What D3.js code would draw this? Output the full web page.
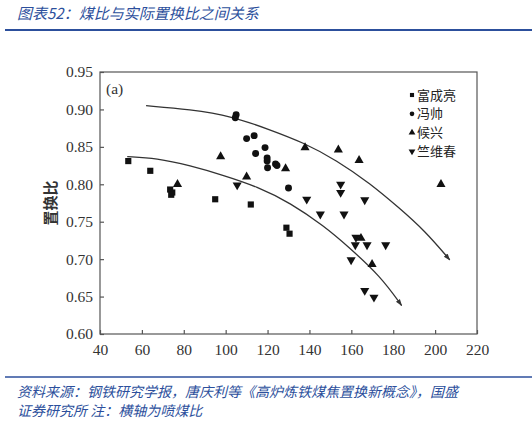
<!DOCTYPE html>
<html>
<head>
<meta charset="utf-8">
<script src="https://cdn.jsdelivr.net/npm/d3@7.9.0/dist/d3.min.js"></script>
<style>
  body { margin: 0; background: #fff; }
  svg { display: block; }
  .cap { font-family: "Noto Sans CJK SC", sans-serif; font-style: italic; fill: #2c4f9c; }
  .tick text { font-family: "Liberation Serif", "DejaVu Serif", serif; font-size: 15.5px; fill: #333; }
</style>
</head>
<body>
<svg id="chart" width="532" height="424"></svg>
<script>
// series data: [coal ratio, replacement ratio]
const fuChengLiang = [[53.5, 0.831], [64, 0.818], [73.5, 0.793], [74.5, 0.789], [74, 0.786],
  [95, 0.780], [112, 0.773], [129, 0.742], [130.5, 0.734]];
const fengShuai = [[105, 0.893], [104.6, 0.889], [110, 0.861], [113.6, 0.865], [114.3, 0.841],
  [118.8, 0.849], [119.8, 0.835], [119.8, 0.831], [120, 0.822], [123.8, 0.827], [124.5, 0.825], [130, 0.795]];
const houXing = [[77, 0.800], [97.6, 0.837], [110, 0.810], [128.6, 0.821], [137.9, 0.849],
  [153.8, 0.846], [163.7, 0.832], [202.8, 0.800], [164.6, 0.728], [169.9, 0.693]];
const zhuWeiChun = [[105.5, 0.799], [154.9, 0.800], [154.9, 0.789], [138.7, 0.780], [166.4, 0.779],
  [145.2, 0.760], [156.5, 0.760], [162.2, 0.729], [161.9, 0.719], [167.5, 0.719], [176.4, 0.719],
  [159.9, 0.699], [166.4, 0.658], [170.8, 0.649]];

// hand drawn trend curves
const upperCurve = [[62, 0.905], [83, 0.900], [103, 0.891], [121, 0.873], [137, 0.856], [153, 0.832],
  [169, 0.801], [183, 0.768], [195, 0.738], [207, 0.699]];
const lowerCurve = [[53, 0.837], [67, 0.835], [83, 0.825], [99, 0.812], [115, 0.797], [131, 0.775],
  [147, 0.744], [158, 0.718], [174, 0.677], [184, 0.638]];

const xTicks = [40, 60, 80, 100, 120, 140, 160, 180, 200, 220];
const yTicks = [0.60, 0.65, 0.70, 0.75, 0.80, 0.85, 0.90, 0.95];
const seriesNames = ['富成亮', '冯帅', '候兴', '竺维春'];

const svg = d3.select('#chart');

// caption on top
svg.append('text').attr('class', 'cap')
  .attr('x', 17).attr('y', 19).attr('font-size', 15)
  .text('图表52：煤比与实际置换比之间关系');
svg.append('line').attr('x1', 5).attr('x2', 532).attr('y1', 30).attr('y2', 30)
  .attr('stroke', '#2c4f9c').attr('stroke-width', 2.2);

const x = d3.scaleLinear().domain([40, 220]).range([100, 477]);
const y = d3.scaleLinear().domain([0.60, 0.95]).range([334, 72]);

// frame
svg.append('rect').attr('x', x(40)).attr('y', y(0.95))
  .attr('width', x(220) - x(40)).attr('height', y(0.60) - y(0.95))
  .attr('fill', 'none').attr('stroke', '#555').attr('stroke-width', 1.2);

let xAxis = svg.append('g').attr('transform', `translate(0,${y(0.60)})`)
  .call(d3.axisBottom(x).tickValues(xTicks).tickSizeInner(-4).tickSizeOuter(0).tickPadding(9));
let yAxis = svg.append('g').attr('transform', `translate(${x(40)},0)`)
  .call(d3.axisLeft(y).tickValues(yTicks).tickSizeInner(-4).tickSizeOuter(0).tickPadding(7)
    .tickFormat(d3.format('.2f')));
[xAxis, yAxis].forEach(a => {
  a.select('.domain').remove();
  a.selectAll('.tick line').attr('stroke', '#555').attr('stroke-width', 1.2);
});
xAxis.selectAll('.tick text').attr('dy', '0.8em');

svg.append('text')
  .attr('transform', `translate(56,${(y(0.60) + y(0.95)) / 2}) rotate(-90)`)
  .attr('text-anchor', 'middle')
  .attr('font-family', '"Noto Sans CJK SC", sans-serif').attr('font-weight', 'bold')
  .attr('font-size', 15).attr('fill', '#333')
  .text('置换比');

svg.append('text').attr('x', 106).attr('y', 94)
  .attr('font-family', '"Liberation Serif", serif').attr('font-size', 15.5).attr('fill', '#333')
  .text('(a)');

// arrow head
svg.append('defs').append('marker')
  .attr('id', 'arrow').attr('viewBox', '0 0 10 10').attr('refX', 9).attr('refY', 5)
  .attr('markerWidth', 7).attr('markerHeight', 7).attr('orient', 'auto-start-reverse')
  .attr('markerUnits', 'userSpaceOnUse')
  .append('path').attr('d', 'M0,1.5 L10,5 L0,8.5 Z').attr('fill', '#333');

let line = d3.line().x(d => x(d[0])).y(d => y(d[1])).curve(d3.curveBasis);
[upperCurve, lowerCurve].forEach(c => {
  svg.append('path').attr('d', line(c))
    .attr('fill', 'none').attr('stroke', '#333').attr('stroke-width', 1.3)
    .attr('marker-end', 'url(#arrow)');
});

// markers
const shapes = [
  { data: fuChengLiang, sym: d3.symbolSquare, size: 38, rot: 0 },
  { data: fengShuai, sym: d3.symbolCircle, size: 38, rot: 0 },
  { data: houXing, sym: d3.symbolTriangle, size: 36, rot: 0 },
  { data: zhuWeiChun, sym: d3.symbolTriangle, size: 36, rot: 180 }
];
shapes.forEach(s => {
  svg.append('g').selectAll('path')
    .data(s.data)
    .enter()
    .append('path')
    .attr('d', d3.symbol().type(s.sym).size(s.size))
    .attr('transform', d => `translate(${x(d[0])},${y(d[1])}) rotate(${s.rot})`)
    .attr('fill', '#111');
});

// legend
const legend = svg.append('g');
seriesNames.forEach((name, i) => {
  let ly = 95 + i * 18.8;
  legend.append('path')
    .attr('d', d3.symbol().type(shapes[i].sym).size(shapes[i].sym === d3.symbolTriangle ? 20 : 17))
    .attr('transform', `translate(412,${ly}) rotate(${shapes[i].rot})`)
    .attr('fill', '#111');
  legend.append('text').attr('x', 417).attr('y', ly).attr('dy', '0.36em')
    .attr('font-family', '"Noto Sans CJK SC", sans-serif').attr('font-size', 13).attr('fill', '#222')
    .text(name);
});

// source note
svg.append('line').attr('x1', 5).attr('x2', 532).attr('y1', 377).attr('y2', 377)
  .attr('stroke', '#2c4f9c').attr('stroke-width', 1.6);
svg.append('text').attr('class', 'cap').attr('x', 17).attr('y', 397).attr('font-size', 14)
  .text('资料来源：钢铁研究学报，唐庆利等《高炉炼铁煤焦置换新概念》，国盛');
svg.append('text').attr('class', 'cap').attr('x', 17).attr('y', 416).attr('font-size', 14)
  .text('证券研究所  注：横轴为喷煤比');
</script>
</body>
</html>
